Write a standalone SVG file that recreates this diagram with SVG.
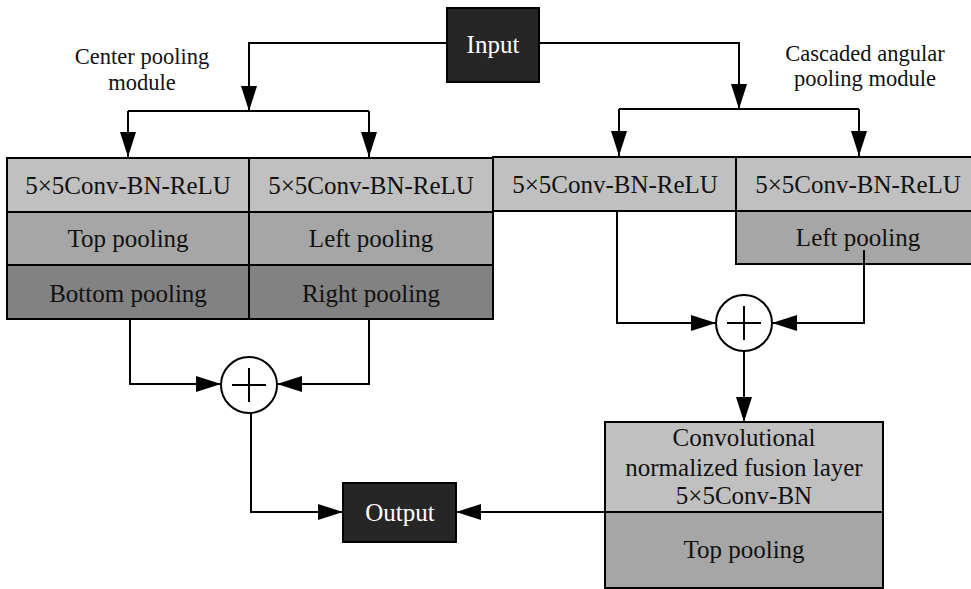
<svg xmlns="http://www.w3.org/2000/svg" width="971" height="589" viewBox="0 0 971 589">
<defs>
<marker id="arr" markerUnits="userSpaceOnUse" markerWidth="25" markerHeight="16" refX="25" refY="8" orient="auto">
<path d="M0,0 L25,8 L0,16 z" fill="#000"/>
</marker>
<style>
text{font-family:"Liberation Serif","Times New Roman",serif;font-size:25px;fill:#111;text-anchor:middle}
.lbl{font-size:22.5px}
.dark{fill:#262626;stroke:#000;stroke-width:2}
.wt{fill:#fff}
.r1{fill:#c0c0c0;stroke:#000;stroke-width:2}
.r2{fill:#a6a6a6;stroke:#000;stroke-width:2}
.r3{fill:#828282;stroke:#000;stroke-width:2}
.ln{fill:none;stroke:#000;stroke-width:2}
.ar{fill:none;stroke:#000;stroke-width:2;marker-end:url(#arr)}
.sum{fill:#fff;stroke:#000;stroke-width:2}
</style>
</defs>
<rect width="971" height="589" fill="#fff"/>

<g id="labels">
<text class="lbl" x="142" y="64">Center pooling</text>
<text class="lbl" x="142" y="90">module</text>
<text class="lbl" x="865" y="61">Cascaded angular</text>
<text class="lbl" x="865" y="86">pooling module</text>
</g>

<g id="input">
<rect class="dark" x="447" y="8" width="92" height="74"/>
<text class="wt" x="493" y="53">Input</text>
</g>

<g id="center-left">
<rect class="r1" x="7" y="158" width="242" height="54"/>
<text x="128" y="194">5×5Conv-BN-ReLU</text>
<rect class="r2" x="7" y="212" width="242" height="53"/>
<text x="128" y="247">Top pooling</text>
<rect class="r3" x="7" y="265" width="242" height="54"/>
<text x="128" y="302">Bottom pooling</text>
</g>

<g id="center-right">
<rect class="r1" x="249" y="158" width="244" height="54"/>
<text x="371" y="194">5×5Conv-BN-ReLU</text>
<rect class="r2" x="249" y="212" width="244" height="53"/>
<text x="371" y="247">Left pooling</text>
<rect class="r3" x="249" y="265" width="244" height="54"/>
<text x="371" y="302">Right pooling</text>
</g>

<g id="cascade-left">
<rect class="r1" x="493" y="157" width="243" height="54"/>
<text x="615" y="193">5×5Conv-BN-ReLU</text>
</g>

<g id="cascade-right">
<rect class="r1" x="736" y="157" width="240" height="54"/>
<text x="858" y="193">5×5Conv-BN-ReLU</text>
<rect class="r2" x="736" y="211" width="240" height="53"/>
<text x="858" y="246">Left pooling</text>
</g>

<g id="sum-left">
<circle class="sum" cx="249" cy="385" r="28"/>
<path class="ln" d="M232,385 H266 M249,368 V402"/>
</g>

<g id="sum-right">
<circle class="sum" cx="744" cy="323" r="28"/>
<path class="ln" d="M727,323 H761 M744,306 V340"/>
</g>

<g id="fusion">
<rect class="r1" x="605" y="422" width="278" height="90"/>
<text x="744" y="446">Convolutional</text>
<text x="744" y="476">normalized fusion layer</text>
<text x="744" y="504">5×5Conv-BN</text>
<rect class="r2" x="605" y="512" width="278" height="76"/>
<text x="744" y="558">Top pooling</text>
</g>

<g id="output">
<rect class="dark" x="343" y="483" width="113" height="59"/>
<text class="wt" x="400" y="521">Output</text>
</g>

<g id="connectors">
<path class="ar" d="M447,43 H249 V111"/>
<path class="ln" d="M128,111 H369"/>
<path class="ar" d="M128,111 V157"/>
<path class="ar" d="M369,111 V157"/>
<path class="ar" d="M539,43 H739 V109"/>
<path class="ln" d="M619,109 H859"/>
<path class="ar" d="M619,109 V156"/>
<path class="ar" d="M859,109 V156"/>
<path class="ar" d="M130,320 V384 H221"/>
<path class="ar" d="M369,320 V384 H277"/>
<path class="ar" d="M251,413 V512 H343"/>
<path class="ar" d="M617,212 V323 H716"/>
<path class="ar" d="M864,250 V323 H772"/>
<path class="ar" d="M744,351 V422"/>
<path class="ar" d="M605,512 H456"/>
</g>
</svg>
